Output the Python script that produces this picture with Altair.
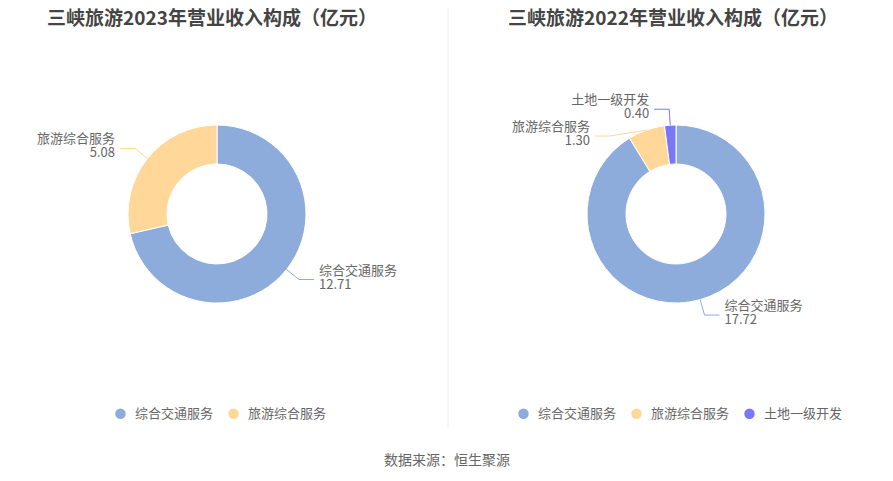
import math
import altair as alt
import pandas as pd

# ---- data ----
cats_2023 = ["综合交通服务", "旅游综合服务"]
vals_2023 = [12.71, 5.08]
cats_2022 = ["综合交通服务", "旅游综合服务", "土地一级开发"]
vals_2022 = [17.72, 1.30, 0.40]
all_cats = ["综合交通服务", "旅游综合服务", "土地一级开发"]
all_colors = ["#8EACDB", "#FFD899", "#7878F5"]
title_2023 = "三峡旅游2023年营业收入构成（亿元）"
title_2022 = "三峡旅游2022年营业收入构成（亿元）"
source_text = "数据来源：恒生聚源"

# ---- style ----
FONT = "Noto Sans CJK SC"
W, H = 877, 465
R_OUT, R_IN = 89, 50
LEN1, LEN2, GAP = 16, 15, 5
LH = 14


def panel(cats, vals, cx, cy, title, title_x, legend_x, adjust):
    total = sum(vals)
    colors = [all_colors[all_cats.index(c)] for c in cats]
    df = pd.DataFrame({"cat": cats, "value": vals, "idx": list(range(len(cats)))})

    line_rows, text_rows = [], []
    cum = 0.0
    for c, v, col in zip(cats, vals, colors):
        mid = (cum + v / 2) / total * 2 * math.pi
        cum += v
        s, co = math.sin(mid), -math.cos(mid)
        p0 = (cx + R_OUT * s, cy + R_OUT * co)
        p1 = (cx + (R_OUT + LEN1) * s, cy + (R_OUT + LEN1) * co)
        dx, dy = adjust.get(c, (0, 0))
        p1 = (p1[0] + dx, p1[1] + dy)
        side = 1 if s >= 0 else -1
        p2 = (p1[0] + side * LEN2, p1[1])
        for k, p in enumerate([p0, p1, p2]):
            line_rows.append({"cat": c, "k": k, "x": p[0], "y": p[1], "col": col})
        text_rows.append({
            "label": f"{c}\n{v:.2f}",
            "x": p2[0] + side * GAP,
            "y": p2[1] - 2 - LH / 2,
            "align": "left" if side > 0 else "right",
        })
    ldf = pd.DataFrame(line_rows)
    tdf = pd.DataFrame(text_rows)

    arc = alt.Chart(df).mark_arc(
        radius=R_OUT, radius2=R_IN, stroke="white", strokeWidth=1
    ).encode(
        x=alt.value(cx),
        y=alt.value(cy),
        theta=alt.Theta("value:Q", stack=True),
        order=alt.Order("idx:Q"),
        color=alt.Color(
            "cat:N",
            scale=alt.Scale(domain=cats, range=colors),
            sort=cats,
            legend=alt.Legend(
                orient="none", legendX=legend_x, legendY=399,
                direction="horizontal", title=None, symbolType="circle",
                symbolSize=110, symbolStrokeWidth=0, labelFont=FONT,
                labelFontSize=13, labelColor="#666666", labelOffset=8,
                columnPadding=13,
            ),
        ),
    )

    lines = alt.Chart(ldf).mark_line(strokeWidth=1).encode(
        x=alt.X("x:Q", scale=None),
        y=alt.Y("y:Q", scale=None),
        detail="cat:N",
        order="k:Q",
        color=alt.Color("col:N", scale=None),
    )

    layers = [arc, lines]
    for al in ["left", "right"]:
        sub = tdf[tdf["align"] == al]
        if len(sub):
            layers.append(alt.Chart(sub).mark_text(
                font=FONT, fontSize=13, color="#666666", align=al,
                baseline="middle", lineBreak="\n", lineHeight=LH,
            ).encode(x=alt.X("x:Q", scale=None), y=alt.Y("y:Q", scale=None),
                     text="label:N"))

    layers.append(alt.Chart(pd.DataFrame({"t": [title]})).mark_text(
        font=FONT, fontSize=19, fontWeight="bold", color="#444444",
        align="center", baseline="middle",
    ).encode(x=alt.value(title_x), y=alt.value(11), text="t:N"))
    return layers


divider = alt.Chart(pd.DataFrame({"a": [0]})).mark_rule(
    color="#EEEEEE", strokeWidth=1
).encode(x=alt.value(440), y=alt.value(0), y2=alt.value(420))

footer = alt.Chart(pd.DataFrame({"t": [source_text]})).mark_text(
    font=FONT, fontSize=14, color="#666666", align="center", baseline="middle"
).encode(x=alt.value(439), y=alt.value(453), text="t:N")

left_layers = panel(cats_2023, vals_2023, 209, 206, title_2023, 204, 106, {})
right_layers = panel(cats_2022, vals_2022, 668, 206, title_2022, 665, 509,
                     {"旅游综合服务": (-31, 21)})

chart = alt.layer(*left_layers, *right_layers, divider, footer).resolve_scale(
    color="independent", theta="independent"
).configure_view(stroke=None).properties(
    width=W, height=H, padding=0,
    autosize=alt.AutoSizeParams(type="none"),
)

chart.save("out.html", embed_options={"renderer": "svg", "actions": False})
